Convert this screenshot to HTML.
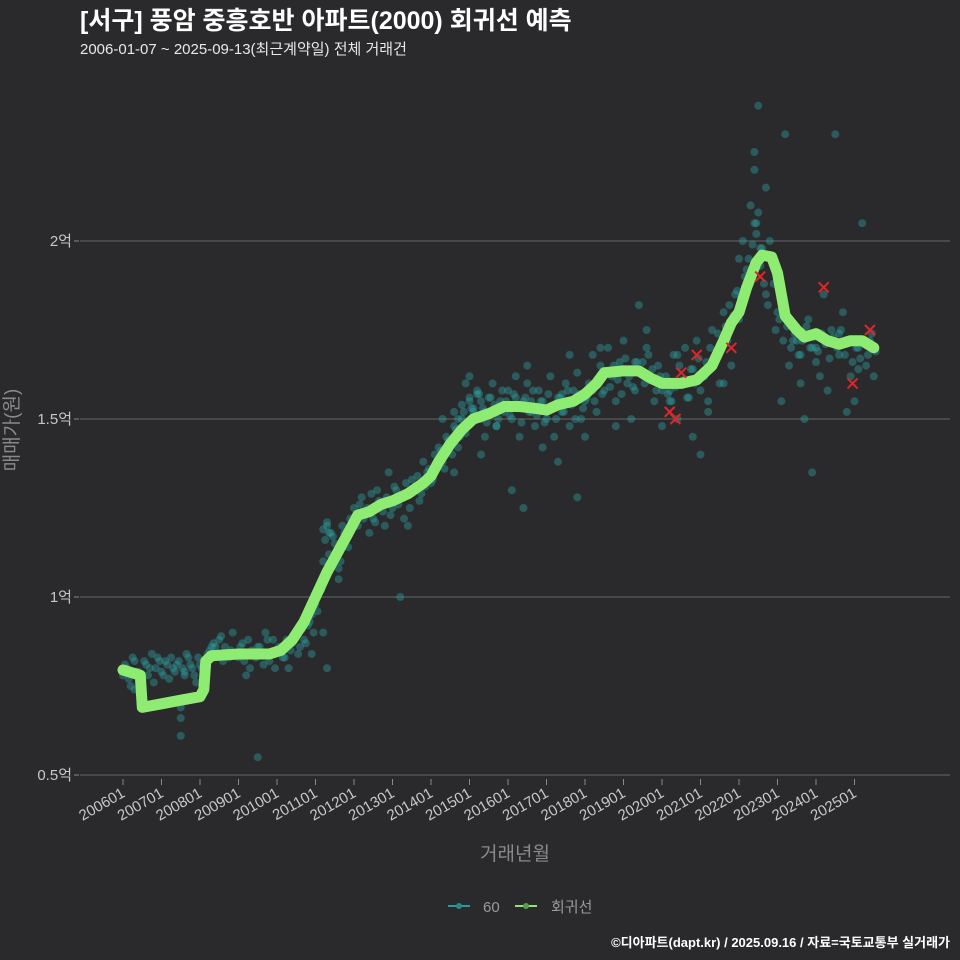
<!DOCTYPE html>
<html><head><meta charset="utf-8"><style>
html,body{margin:0;padding:0;background:#2a2a2c;}
svg{display:block;font-family:"Liberation Sans","Noto Sans CJK KR",sans-serif;}
</style></head><body>
<svg id="chart" width="960" height="960" viewBox="0 0 960 960">
<rect x="0" y="0" width="960" height="960" fill="#2a2a2c"/>
<text x="80" y="29" fill="#ffffff" font-size="25" font-weight="bold">[서구] 풍암 중흥호반 아파트(2000) 회귀선 예측</text>
<text x="80" y="54" fill="#e8e8e8" font-size="15">2006-01-07 ~ 2025-09-13(최근계약일) 전체 거래건</text>
<g id="grid"></g>
<g id="yaxis"></g>
<g id="xaxis"></g>
<g id="points"></g>
<g id="line"></g>
<g id="marks"></g>
<text x="18" y="430" fill="#8a8a8a" font-size="19" text-anchor="middle" transform="rotate(-90 18 430)">매매가(원)</text>
<text x="515" y="860" fill="#8a8a8a" font-size="19" text-anchor="middle">거래년월</text>
<g>
<g>
<line x1="448" y1="906" x2="470" y2="906" stroke="#2a9a9a" stroke-width="2"/>
<circle cx="459" cy="906" r="3" fill="#2a8888"/>
<text x="483" y="912" fill="#9a9a9a" font-size="15">60</text></g>
<g>
<line x1="515" y1="906" x2="537" y2="906" stroke="#8ee66e" stroke-width="2"/>
<circle cx="526" cy="906" r="3" fill="#5a9a50"/>
<text x="551" y="912" fill="#9a9a9a" font-size="15">회귀선</text></g>
</g>
<text x="950" y="947" fill="#ffffff" font-size="13" font-weight="bold" text-anchor="end">©디아파트(dapt.kr) / 2025.09.16 / 자료=국토교통부 실거래가</text>
</svg>
<script>
const yTicks=[0.5,1,1.5,2];
const yTickLabels=["0.5억","1억","1.5억","2억"];
const xTickYears=[2006,2007,2008,2009,2010,2011,2012,2013,2014,2015,2016,2017,2018,2019,2020,2021,2022,2023,2024,2025];
const xTickLabels=["200601","200701","200801","200901","201001","201101","201201","201301","201401","201501","201601","201701","201801","201901","202001","202101","202201","202301","202401","202501"];
const lineX=[2006.0,2006.3,2006.45,2006.5,2007.0,2007.5,2008.0,2008.1,2008.15,2008.3,2009.0,2009.8,2010.1,2010.4,2010.7,2011.0,2011.3,2011.6,2011.9,2012.1,2012.4,2012.7,2013.0,2013.4,2013.8,2014.0,2014.2,2014.5,2014.8,2015.1,2015.5,2015.9,2016.3,2016.7,2017.0,2017.3,2017.7,2018.0,2018.3,2018.5,2019.0,2019.4,2019.7,2020.0,2020.5,2020.9,2021.3,2021.6,2021.8,2022.0,2022.2,2022.45,2022.6,2022.85,2023.0,2023.2,2023.5,2023.7,2024.0,2024.3,2024.6,2024.9,2025.2,2025.5];
const lineY=[0.795,0.785,0.78,0.69,0.70,0.71,0.72,0.74,0.82,0.835,0.84,0.84,0.85,0.88,0.93,1.0,1.07,1.13,1.19,1.23,1.24,1.26,1.27,1.29,1.32,1.34,1.38,1.43,1.47,1.50,1.515,1.535,1.535,1.53,1.525,1.54,1.55,1.57,1.60,1.63,1.635,1.635,1.615,1.60,1.60,1.61,1.65,1.72,1.77,1.80,1.87,1.94,1.96,1.955,1.91,1.79,1.75,1.73,1.74,1.72,1.71,1.72,1.72,1.70];
const ptX=[2006.0,2006.1,2006.2,2006.3,2006.4,2006.5,2006.6,2006.7,2006.8,2006.9,2007.0,2007.1,2007.2,2007.3,2007.4,2007.5,2007.6,2007.7,2007.8,2007.9,2008.0,2008.2,2008.3,2008.5,2008.6,2008.8,2009.0,2009.1,2009.3,2009.5,2009.6,2009.8,2009.9,2010.1,2010.2,2010.4,2010.5,2010.6,2010.7,2010.8,2010.9,2011.0,2011.1,2011.2,2011.3,2011.4,2011.5,2011.6,2011.7,2011.8,2011.9,2012.0,2012.1,2012.2,2012.3,2012.5,2012.6,2012.7,2012.8,2013.0,2013.1,2013.2,2013.3,2013.5,2013.6,2013.7,2013.9,2014.0,2014.1,2014.2,2014.3,2014.4,2014.5,2014.6,2014.7,2014.8,2014.9,2015.0,2015.1,2015.2,2015.3,2015.4,2015.5,2015.6,2015.7,2015.8,2015.9,2016.0,2016.1,2016.2,2016.3,2016.4,2016.5,2016.6,2016.7,2016.8,2016.9,2017.0,2017.1,2017.2,2017.3,2017.4,2017.5,2017.6,2017.7,2017.8,2017.9,2018.0,2018.1,2018.2,2018.3,2018.4,2018.5,2018.6,2018.7,2018.8,2018.9,2019.0,2019.1,2019.2,2019.3,2019.5,2019.6,2019.7,2019.8,2019.9,2020.0,2020.1,2020.2,2020.3,2020.4,2020.5,2020.6,2020.7,2020.8,2020.9,2021.0,2021.1,2021.2,2021.3,2021.4,2021.5,2021.6,2021.7,2021.8,2021.9,2022.0,2022.1,2022.2,2022.3,2022.4,2022.5,2022.6,2022.7,2022.8,2022.9,2023.0,2023.2,2023.3,2023.5,2023.6,2023.8,2023.9,2024.0,2024.1,2024.3,2024.4,2024.6,2024.7,2024.9,2025.0,2025.1,2025.3,2025.4,2025.5,2006.3,2007.2,2007.6,2008.4,2009.2,2009.7,2010.3,2010.9,2011.2,2011.6,2012.4,2012.9,2013.4,2013.8,2014.3,2014.6,2015.0,2015.3,2015.7,2016.1,2016.5,2016.9,2017.3,2017.6,2018.0,2018.4,2018.8,2019.2,2019.6,2020.0,2020.4,2020.8,2021.2,2021.6,2022.0,2022.4,2022.7,2023.1,2023.7,2024.2,2024.8,2025.2,2007.5,2007.5,2009.5,2011.3,2013.2,2014.9,2016.4,2017.8,2019.4,2021.0,2022.4,2022.5,2023.9,2024.5,
2006.05,2006.15,2006.25,2006.35,2006.55,2006.65,2006.75,2006.85,2006.95,2007.05,
2007.15,2007.25,2007.35,2007.45,2007.55,2007.65,2007.75,2007.85,2007.95,2008.05,
2008.15,2008.25,2008.35,2008.45,2008.55,2008.65,2008.75,2008.85,2008.95,2009.05,
2009.15,2009.25,2009.35,2009.45,2009.55,2009.65,2009.75,2009.85,2009.95,2010.05,
2010.15,2010.25,2010.35,2010.45,2010.55,2010.65,2010.75,2010.85,2010.95,2011.05,
2011.15,2011.25,2011.35,2011.45,2011.55,2011.65,2011.75,2011.85,2011.95,2012.05,
2012.15,2012.25,2012.35,2012.45,2012.55,2012.65,2012.75,2012.85,2012.95,2013.05,
2013.15,2013.25,2013.35,2013.45,2013.55,2013.65,2013.75,2013.85,2013.95,2014.05,
2014.15,2014.25,2014.35,2014.45,2014.55,2014.65,2014.75,2014.85,2014.95,2015.05,
2015.15,2015.25,2015.35,2015.45,2015.55,2015.65,2015.75,2015.85,2015.95,2016.05,
2016.15,2016.25,2016.35,2016.45,2016.55,2016.65,2016.75,2016.85,2016.95,2017.05,
2017.15,2017.25,2017.35,2017.45,2017.55,2017.65,2017.75,2017.85,2017.95,2018.05,
2018.15,2018.25,2018.35,2018.45,2018.55,2018.65,2018.75,2018.85,2018.95,2019.05,
2019.15,2019.25,2019.35,2019.45,2019.55,2019.65,2019.75,2019.85,2019.95,2020.05,
2020.15,2020.25,2020.35,2020.45,2020.55,2020.65,2020.75,2020.85,2020.95,2021.05,
2021.15,2021.25,2021.35,2021.45,2021.55,2021.65,2021.75,2021.85,2021.95,2022.05,
2022.15,2022.25,2022.35,2022.45,2022.55,2022.65,2022.75,2022.95,2023.05,2023.15,
2023.25,2023.35,2023.45,2023.55,2023.65,2023.75,2023.85,2023.95,2024.05,2024.15,
2024.25,2024.35,2024.45,2024.55,2024.65,2024.75,2024.85,2024.95,2025.05,2025.15,
2025.25,2025.35,2025.45,2025.55,
2011.2,2011.25,2011.3,2011.35,
2014.6,2014.7,2014.8,2015.0,2015.1,2015.2,
2015.3,2015.4,2016.0,2016.2,2016.6,2017.0,
2017.4,2018.2,2018.6,2019.0,2019.3,2020.2,
2020.6,2021.1,2021.4,2022.1,2022.3,2022.45,
2022.55,2023.4,2023.6,2024.0,2024.6,2025.1];
const ptY=[0.78,0.80,0.75,0.82,0.79,0.77,0.81,0.80,0.76,0.83,0.79,0.82,0.77,0.80,0.81,0.66,0.78,0.83,0.80,0.76,0.81,0.84,0.86,0.88,0.82,0.85,0.83,0.87,0.80,0.86,0.84,0.82,0.88,0.85,0.83,0.87,0.90,0.86,0.88,0.92,0.95,0.98,1.02,1.10,1.20,1.18,1.15,1.08,1.20,1.16,1.22,1.25,1.20,1.28,1.24,1.22,1.30,1.26,1.20,1.25,1.30,1.28,1.22,1.33,1.30,1.27,1.35,1.32,1.40,1.42,1.38,1.45,1.44,1.48,1.42,1.50,1.46,1.55,1.52,1.58,1.50,1.45,1.56,1.60,1.48,1.55,1.52,1.58,1.50,1.62,1.45,1.55,1.60,1.52,1.48,1.58,1.55,1.50,1.62,1.45,1.56,1.52,1.60,1.48,1.58,1.63,1.50,1.55,1.60,1.68,1.52,1.65,1.58,1.70,1.62,1.55,1.66,1.72,1.60,1.64,1.58,1.66,1.70,1.62,1.55,1.65,1.58,1.62,1.55,1.68,1.50,1.60,1.70,1.56,1.64,1.72,1.58,1.62,1.55,1.75,1.68,1.60,1.80,1.72,1.65,1.85,1.78,2.00,1.92,2.10,2.05,2.38,1.98,2.15,2.00,1.88,1.80,2.30,1.65,1.72,1.60,1.78,1.70,1.66,1.62,1.58,1.75,1.68,1.80,1.62,1.55,1.70,1.65,1.72,1.62,0.74,0.70,0.79,0.86,0.78,0.90,0.80,0.84,0.90,1.05,1.18,1.35,1.20,1.38,1.50,1.35,1.62,1.40,1.48,1.30,1.65,1.42,1.38,1.68,1.45,1.70,1.48,1.50,1.75,1.48,1.68,1.45,1.52,1.60,1.95,2.20,1.85,1.55,1.50,1.85,1.52,2.05,0.61,0.69,0.55,0.80,1.00,1.60,1.25,1.28,1.82,1.40,2.25,2.08,1.35,2.30,
0.81,0.77,0.83,0.79,0.82,0.78,0.84,0.80,0.82,0.78,
0.81,0.83,0.79,0.82,0.80,0.84,0.81,0.78,0.83,0.80,
0.80,0.85,0.87,0.84,0.89,0.86,0.83,0.90,0.84,0.86,
0.82,0.88,0.85,0.83,0.86,0.81,0.88,0.84,0.80,0.86,
0.83,0.88,0.85,0.89,0.84,0.91,0.87,0.93,0.90,0.96,
1.02,1.06,1.12,1.17,1.13,1.10,1.18,1.14,1.20,1.23,
1.26,1.22,1.25,1.29,1.21,1.27,1.24,1.28,1.23,1.31,
1.26,1.28,1.32,1.25,1.30,1.34,1.29,1.31,1.36,1.33,
1.37,1.41,1.36,1.44,1.40,1.47,1.45,1.52,1.48,1.53,
1.51,1.57,1.53,1.49,1.56,1.54,1.50,1.58,1.55,1.51,
1.57,1.53,1.49,1.56,1.52,1.58,1.51,1.55,1.49,1.57,
1.53,1.50,1.56,1.52,1.58,1.54,1.50,1.57,1.53,1.56,
1.59,1.55,1.61,1.57,1.63,1.59,1.65,1.61,1.57,1.67,
1.62,1.59,1.66,1.63,1.60,1.68,1.64,1.58,1.62,1.60,
1.57,1.55,1.59,1.65,1.61,1.56,1.64,1.60,1.67,1.62,
1.66,1.70,1.66,1.74,1.70,1.76,1.82,1.79,1.86,1.84,
1.90,1.95,1.99,2.02,1.93,1.88,1.82,1.75,1.78,1.72,
1.76,1.70,1.74,1.68,1.72,1.76,1.70,1.73,1.69,1.74,
1.71,1.67,1.73,1.70,1.75,1.68,1.72,1.66,1.70,1.67,
1.72,1.68,1.74,1.69,
1.19,1.16,1.21,1.18,
1.52,1.50,1.54,1.56,1.53,1.57,
1.55,1.52,1.54,1.56,1.55,1.52,
1.57,1.58,1.63,1.64,1.66,1.58,
1.60,1.62,1.68,1.83,1.90,2.05,
1.98,1.72,1.68,1.70,1.74,1.64];
const markX=[2020.2,2020.35,2020.5,2020.9,2021.8,2022.55,2024.2,2024.95,2025.4];
const markY=[1.52,1.50,1.63,1.68,1.70,1.90,1.87,1.60,1.75];

const NS="http://www.w3.org/2000/svg";
function xs(yr){return 123+(yr-2006)*38.5;}
function ys(v){return 775-(v-0.5)*356;}
function mk(tag,attrs,parent){const e=document.createElementNS(NS,tag);for(const k in attrs)e.setAttribute(k,attrs[k]);parent.appendChild(e);return e;}
const grid=document.getElementById('grid'),yax=document.getElementById('yaxis'),xax=document.getElementById('xaxis');
yTicks.forEach((t,i)=>{
  const l=mk('line',{x1:80,x2:950,y1:ys(t),y2:ys(t),stroke:'#5a5a5a','stroke-width':1.3},grid);
  
  
  const tk=mk('line',{x1:74,x2:79,y1:ys(t),y2:ys(t),stroke:'#8a8a8a'},yax);
  
  
  const tx=mk('text',{x:72,y:ys(t)+5,fill:'#c8c8c8','font-size':15,'text-anchor':'end'},yax);
  tx.textContent=yTickLabels[i];
  
  
});
xTickYears.forEach((yr,i)=>{
  const x=xs(yr);
  const tk=mk('line',{x1:x,x2:x,y1:779,y2:785,stroke:'#8a8a8a'},xax);
  
  
  const tx=mk('text',{x:x+3,y:796,fill:'#c8c8c8','font-size':15,'text-anchor':'end',transform:`rotate(-30 ${x+3} 796)`},xax);
  tx.textContent=xTickLabels[i];
  
  
});
const pg=document.getElementById('points');
const nPts=Math.min(ptX.length,ptY.length);
for(let i=0;i<nPts;i++){
  const c=mk('circle',{cx:xs(ptX[i]),cy:ys(ptY[i]),r:4,fill:'rgba(45,165,165,0.4)'},pg);
  
  
}
const lg=document.getElementById('line');
const d=lineX.map((x,i)=>(i?'L':'M')+xs(x).toFixed(1)+','+ys(lineY[i]).toFixed(1)).join(' ');
const p=mk('path',{d:d,fill:'none',stroke:'#8fec72','stroke-width':11,'stroke-linecap':'round','stroke-linejoin':'round'},lg);


const mg=document.getElementById('marks');
markX.forEach((x,i)=>{
  const cx=xs(x),cy=ys(markY[i]);
  const g=mk('path',{d:`M${cx-5},${cy-5}L${cx+5},${cy+5}M${cx-5},${cy+5}L${cx+5},${cy-5}`,stroke:'#e0262a','stroke-width':2},mg);
  
  
});
</script>
</body></html>
